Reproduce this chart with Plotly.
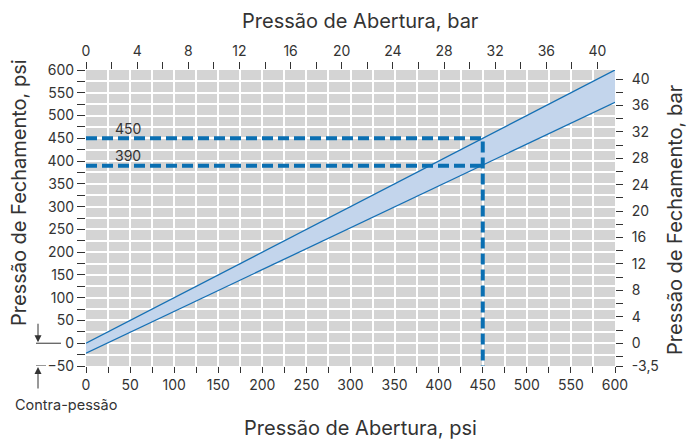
import plotly.graph_objects as go

PSI_PER_BAR = 14.5038

# ---- data ----
opening_psi = [0, 600]
closing_upper_psi = [0, 600]
closing_lower_psi = [-22, 529]

example_opening_psi = 450
example_closing_max_psi = 450
example_closing_min_psi = 390

psi_y_range = [-50, 600]
psi_x_range = [0, 600]

top_tick_bar = list(range(0, 41, 4))
right_tick_bar = list(range(0, 41, 4))
right_bottom_label = "-3,5"

# ---- style ----
FONT = "Inter, Liberation Sans, Arial, sans-serif"
TXT = "#333333"
LINE = "#1570b5"
DASH = "#0a6fb2"
BAND = "#c3d5ec"
BG = "#d4d4d4"

W, H = 693, 441
ML, MR, MT, MB = 86, 78, 70, 75
PW, PH = W - ML - MR, H - MT - MB


def px_x(px):
    return (px - ML) / PW


def px_y(py):
    return (H - MB - py) / PH


fig = go.Figure()

fig.add_trace(go.Scatter(x=opening_psi, y=closing_lower_psi, mode="lines",
                         line=dict(color=LINE, width=1.3),
                         hoverinfo="skip", showlegend=False))
fig.add_trace(go.Scatter(x=opening_psi, y=closing_upper_psi, mode="lines",
                         fill="tonexty", fillcolor=BAND,
                         line=dict(color=LINE, width=1.3),
                         hoverinfo="skip", showlegend=False))

fig.add_trace(go.Scatter(x=[psi_x_range[0], example_opening_psi],
                         y=[example_closing_min_psi, example_closing_min_psi],
                         mode="lines",
                         line=dict(color=DASH, width=4, dash="11px,5px"),
                         hoverinfo="skip", showlegend=False))
fig.add_trace(go.Scatter(x=[psi_x_range[0], example_opening_psi, example_opening_psi],
                         y=[example_closing_max_psi, example_closing_max_psi, psi_y_range[0]],
                         mode="lines",
                         line=dict(color=DASH, width=4, dash="11px,5px"),
                         hoverinfo="skip", showlegend=False))

# invisible trace so secondary (bar) axes are drawn
fig.add_trace(go.Scatter(x=[0], y=[0], xaxis="x2", yaxis="y2", mode="markers",
                         marker=dict(opacity=0), hoverinfo="skip", showlegend=False))

tickfont = dict(family=FONT, size=14, color=TXT)

fig.update_layout(
    width=W, height=H,
    margin=dict(l=ML, r=MR, t=MT, b=MB, autoexpand=False),
    paper_bgcolor="white", plot_bgcolor=BG,
    font=dict(family=FONT, color=TXT),
    xaxis=dict(range=psi_x_range, tickmode="linear", tick0=0, dtick=50,
               ticks="outside", ticklen=6, tickcolor=TXT, tickwidth=1,
               showgrid=True, gridcolor="white", gridwidth=1.5,
               minor=dict(tickmode="linear", tick0=0, dtick=25, ticks="outside",
                          ticklen=6, tickcolor=TXT, tickwidth=1,
                          showgrid=True, gridcolor="white", gridwidth=1.5),
               zeroline=False, showline=False, tickfont=tickfont, automargin=False),
    yaxis=dict(range=psi_y_range, tickmode="linear", tick0=0, dtick=50,
               ticks="outside", ticklen=8, tickcolor=TXT, tickwidth=1,
               showgrid=True, gridcolor="white", gridwidth=1.5,
               minor=dict(tickmode="linear", tick0=0, dtick=25, ticks="outside",
                          ticklen=8, tickcolor=TXT, tickwidth=1,
                          showgrid=True, gridcolor="white", gridwidth=1.5),
               zeroline=False, showline=False, tickfont=tickfont, automargin=False),
    xaxis2=dict(overlaying="x", side="top", anchor="y",
                range=[psi_x_range[0] / PSI_PER_BAR, psi_x_range[1] / PSI_PER_BAR],
                tickmode="array", tickvals=top_tick_bar,
                ticks="outside", ticklen=7, tickcolor=TXT, tickwidth=1,
                minor=dict(tickmode="linear", tick0=0, dtick=2, ticks="outside",
                           ticklen=7, tickcolor=TXT, tickwidth=1, showgrid=False),
                showgrid=False, zeroline=False, showline=False, tickfont=tickfont,
                automargin=False),
    yaxis2=dict(overlaying="y", side="right", anchor="x",
                range=[psi_y_range[0] / PSI_PER_BAR, psi_y_range[1] / PSI_PER_BAR],
                tickmode="array",
                tickvals=[psi_y_range[0] / PSI_PER_BAR] + right_tick_bar,
                ticktext=[right_bottom_label] + [str(v) for v in right_tick_bar],
                ticks="outside", ticklen=7, tickcolor=TXT, tickwidth=1,
                ticklabelstandoff=6,
                minor=dict(tickmode="linear", tick0=0, dtick=2, ticks="outside",
                           ticklen=7, tickcolor=TXT, tickwidth=1, showgrid=False),
                showgrid=False, zeroline=False, showline=False, tickfont=tickfont,
                automargin=False),
)

title_font = dict(family=FONT, size=20, color=TXT)
annotations = [
    dict(text="Pressão de Abertura, bar", x=px_x(360), y=px_y(21), xref="paper", yref="paper",
         showarrow=False, font=title_font, xanchor="center", yanchor="middle"),
    dict(text="Pressão de Abertura, psi", x=px_x(360), y=px_y(428), xref="paper", yref="paper",
         showarrow=False, font=title_font, xanchor="center", yanchor="middle"),
    dict(text="Pressão de Fechamento, psi", x=px_x(19), y=px_y(193), xref="paper", yref="paper",
         showarrow=False, font=title_font, textangle=-90, xanchor="center", yanchor="middle"),
    dict(text="Pressão de Fechamento, bar", x=px_x(675), y=px_y(220), xref="paper", yref="paper",
         showarrow=False, font=title_font, textangle=-90, xanchor="center", yanchor="middle"),
    dict(text="Contra-pessão", x=px_x(66), y=px_y(404), xref="paper", yref="paper",
         showarrow=False, font=dict(family=FONT, size=14.5, color=TXT),
         xanchor="center", yanchor="middle"),
    dict(text=str(example_closing_max_psi), x=48, y=example_closing_max_psi, xref="x", yref="y",
         showarrow=False, font=tickfont, yshift=10),
    dict(text=str(example_closing_min_psi), x=48, y=example_closing_min_psi, xref="x", yref="y",
         showarrow=False, font=tickfont, yshift=10),
    # back-pressure arrows
    dict(text="", x=px_x(38), y=0, xref="paper", yref="y", showarrow=True,
         ax=0, ay=-21, arrowhead=2, arrowsize=1.4, arrowwidth=1, arrowcolor=TXT, standoff=1),
    dict(text="", x=px_x(38), y=psi_y_range[0], xref="paper", yref="y", showarrow=True,
         ax=0, ay=24, arrowhead=2, arrowsize=1.4, arrowwidth=1, arrowcolor=TXT, standoff=1),
]
fig.update_layout(annotations=annotations)

fig.add_shape(type="line", xref="paper", yref="y", x0=px_x(36), x1=px_x(61), y0=0, y1=0,
              line=dict(color=TXT, width=1))
fig.add_shape(type="line", xref="paper", yref="y", x0=px_x(36), x1=px_x(46),
              y0=psi_y_range[0], y1=psi_y_range[0], line=dict(color=TXT, width=1))

fig.write_html(
    "out.html",
    config={"displayModeBar": False},
    post_script="document.body.style.margin='0';document.body.style.padding='0';",
)
